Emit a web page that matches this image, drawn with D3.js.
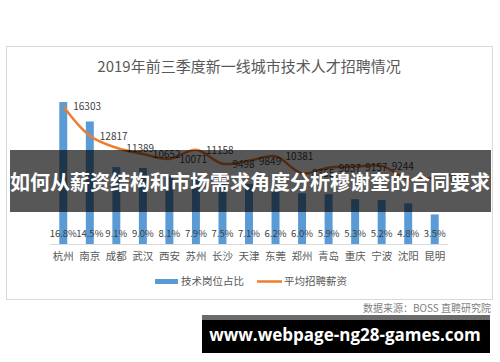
<!DOCTYPE html>
<html>
<head>
<meta charset="utf-8">
<script src="https://cdn.jsdelivr.net/npm/d3@7"></script>
<style>
  body { margin: 0; background: #fff; }
  svg { display: block; font-family: "Noto Sans CJK SC", "Noto Sans", sans-serif; }
</style>
</head>
<body>
<div id="chart"></div>
<script>
// data
var cities = ["杭州", "南京", "成都", "武汉", "西安", "苏州", "长沙", "天津", "东莞", "郑州", "青岛", "重庆", "宁波", "沈阳", "昆明"];
var techShare = [16.8, 14.5, 9.1, 9.0, 8.1, 7.9, 7.5, 7.1, 6.2, 6.0, 5.9, 5.3, 5.2, 4.8, 3.5];
var avgSalary = [16303, 12817, 11389, 10652, 10071, 11158, 9498, 9849, 10381, 8355, 9037, 9157, 9244, 7680, 7859];
var salaryLabels = [true, true, true, true, true, true, true, true, true, true, true, true, true, false, true];

var W = 500, H = 362;
var svg = d3.select("#chart").append("svg")
    .attr("width", W)
    .attr("height", H);

// chart frame
svg.append("rect")
    .attr("x", 6.5).attr("y", 46.5)
    .attr("width", 486).attr("height", 253)
    .attr("fill", "#fff")
    .attr("stroke", "#d9d9d9");

svg.append("text")
    .attr("x", 249).attr("y", 72)
    .attr("text-anchor", "middle")
    .attr("font-size", 15)
    .attr("fill", "#595959")
    .text("2019年前三季度新一线城市技术人才招聘情况");

var x = d3.scaleBand()
    .domain(cities)
    .range([50, 448])
    .paddingInner(0.7)
    .paddingOuter(0.35);

var yPct = d3.scaleLinear().domain([0, 20]).range([244, 75]);
var ySal = d3.scaleLinear().domain([0, 20000]).range([244, 75]);

var rows = cities.map(function(c, i) {
  return {city: c, share: techShare[i], salary: avgSalary[i], showLabel: salaryLabels[i]};
});

// bars
svg.append("g").selectAll("rect")
  .data(rows)
  .join("rect")
    .attr("x", function(d) { return x(d.city); })
    .attr("y", function(d) { return yPct(d.share); })
    .attr("width", x.bandwidth())
    .attr("height", function(d) { return yPct(0) - yPct(d.share); })
    .attr("fill", "#5b9bd5");

// baseline
svg.append("line")
    .attr("x1", 50).attr("x2", 448)
    .attr("y1", 244.5).attr("y2", 244.5)
    .attr("stroke", "#d9d9d9");

// percent labels (inside base)
svg.append("g").selectAll("text")
  .data(rows)
  .join("text")
    .attr("x", function(d) { return x(d.city) + x.bandwidth() / 2; })
    .attr("y", 237)
    .attr("text-anchor", "middle")
    .attr("font-size", 9.5)
    .attr("fill", "#404040")
    .text(function(d) { return d3.format(".1f")(d.share) + "%"; });

// city axis
var xAxis = svg.append("g")
    .attr("transform", "translate(0,244)")
    .call(d3.axisBottom(x).tickSize(0).tickPadding(9));
xAxis.select(".domain").remove();
xAxis.selectAll("text")
    .attr("font-size", 10.5)
    .attr("fill", "#595959")
    .attr("font-family", "\"Noto Sans CJK SC\", sans-serif");

// salary line
var cx = function(d) { return x(d.city) + x.bandwidth() / 2; };
svg.append("path")
    .datum(rows)
    .attr("fill", "none")
    .attr("stroke", "#ed7d31")
    .attr("stroke-width", 2.5)
    .attr("stroke-linejoin", "round")
    .attr("d", d3.line()
      .x(cx)
      .y(function(d) { return ySal(d.salary); })
      .curve(d3.curveCatmullRom));

svg.append("g").selectAll("text")
  .data(rows.filter(function(d) { return d.showLabel; }))
  .join("text")
    .attr("x", function(d) { return cx(d) + 10; })
    .attr("y", function(d) { return ySal(d.salary) + 4; })
    .attr("font-size", 10)
    .attr("fill", "#404040")
    .text(function(d) { return d.salary; });

// legend
var legend = svg.append("g");
legend.append("rect")
    .attr("x", 155).attr("y", 279)
    .attr("width", 23).attr("height", 5)
    .attr("fill", "#5b9bd5");
legend.append("text")
    .attr("x", 181).attr("y", 285)
    .attr("font-size", 10.5)
    .attr("fill", "#595959")
    .text("技术岗位占比");
legend.append("line")
    .attr("x1", 257).attr("x2", 282)
    .attr("y1", 281.5).attr("y2", 281.5)
    .attr("stroke", "#ed7d31")
    .attr("stroke-width", 2.5);
legend.append("text")
    .attr("x", 284).attr("y", 285)
    .attr("font-size", 10.5)
    .attr("fill", "#595959")
    .text("平均招聘薪资");

// source note
svg.append("text")
    .attr("x", 491).attr("y", 312)
    .attr("text-anchor", "end")
    .attr("font-size", 10)
    .attr("fill", "#7f7f7f")
    .text("数据来源：BOSS 直聘研究院");

// headline banner over the chart
svg.append("rect")
    .attr("x", 10).attr("y", 150)
    .attr("width", 481).attr("height", 62)
    .attr("fill", "rgba(0,0,0,0.66)");
svg.append("text")
    .attr("x", 250).attr("y", 190)
    .attr("text-anchor", "middle")
    .attr("font-size", 20)
    .attr("font-weight", "bold")
    .attr("fill", "#fff")
    .text("如何从薪资结构和市场需求角度分析穆谢奎的合同要求");

// site banner
svg.append("rect")
    .attr("x", 202).attr("y", 315)
    .attr("width", 288).attr("height", 5)
    .attr("fill", "#6b6b6b");
svg.append("rect")
    .attr("x", 202).attr("y", 320)
    .attr("width", 288).attr("height", 33)
    .attr("fill", "#000");
svg.append("text")
    .attr("x", 345).attr("y", 341)
    .attr("text-anchor", "middle")
    .attr("font-size", 17)
    .attr("font-weight", "bold")
    .attr("font-family", "\"Open Sans\", \"DejaVu Sans\", sans-serif")
    .attr("fill", "#fff")
    .text("www.webpage-ng28-games.com");
</script>
</body>
</html>
